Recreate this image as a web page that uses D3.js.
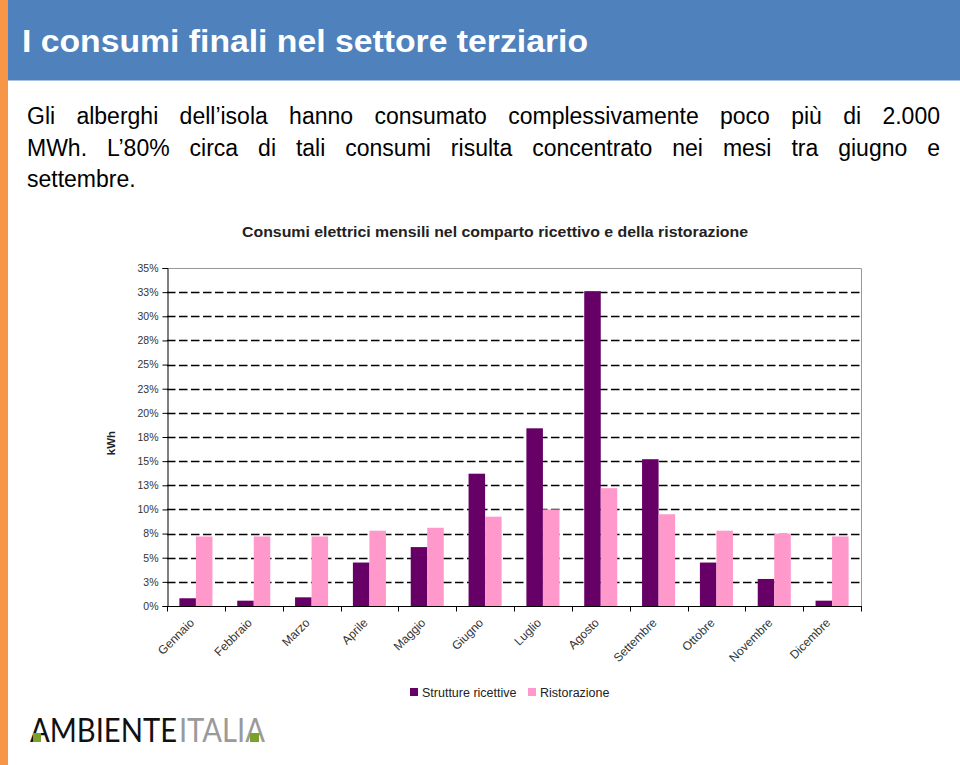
<!DOCTYPE html>
<html>
<head>
<meta charset="utf-8">
<title>I consumi finali nel settore terziario</title>
<script src="https://cdn.jsdelivr.net/npm/d3@7"></script>
<style>
    body { margin: 0; background: #fff; }
    svg { display: block; font-family: "Liberation Sans", Arial, sans-serif; }
</style>
</head>
<body>
<svg id="page" width="960" height="765"></svg>
<script>
    // data (share of yearly kWh, %)
    const MONTHS = ['Gennaio', 'Febbraio', 'Marzo', 'Aprile', 'Maggio', 'Giugno',
                    'Luglio', 'Agosto', 'Settembre', 'Ottobre', 'Novembre', 'Dicembre'];
    const SERIES = ['Strutture ricettive', 'Ristorazione'];
    const RICETTIVE = [0.8, 0.55, 0.9, 4.5, 6.1, 13.7, 18.4, 32.6, 15.2, 4.5, 2.8, 0.55];
    const RISTORAZIONE = [7.2, 7.2, 7.2, 7.8, 8.1, 9.25, 10.0, 12.2, 9.5, 7.8, 7.5, 7.2];
    const Y_TICKS = [0, 2.5, 5, 7.5, 10, 12.5, 15, 17.5, 20, 22.5, 25, 27.5, 30, 32.5, 35];
    const Y_LABELS = ['0%', '3%', '5%', '8%', '10%', '13%', '15%', '18%', '20%', '23%', '25%', '28%', '30%', '33%', '35%'];
    const COLORS = ['#660066', '#ff99cc'];

    const TEXT_LINES = [
        'Gli alberghi dell\u2019isola hanno consumato complessivamente poco più di 2.000',
        'MWh. L\u201980% circa di tali consumi risulta concentrato nei mesi tra giugno e',
        'settembre.'
    ];

    const svg = d3.select('#page');

    // slide header
    svg.append('rect').attr('x', 0).attr('y', 0).attr('width', 960).attr('height', 80).attr('fill', '#4f81bd');
    svg.append('line').attr('x1', 0).attr('x2', 960).attr('y1', 80.5).attr('y2', 80.5)
        .attr('stroke', '#a9c1e0').attr('stroke-width', 1);
    svg.append('rect').attr('x', 0).attr('y', 0).attr('width', 8).attr('height', 765).attr('fill', '#f79646');
    svg.append('text').attr('x', 22).attr('y', 52)
        .attr('fill', '#fff').attr('font-size', 31).attr('font-weight', 'bold')
        .attr('textLength', 566).attr('lengthAdjust', 'spacingAndGlyphs')
        .text('I consumi finali nel settore terziario');

    // justified paragraph
    const para = svg.append('g').attr('font-size', 23).attr('fill', '#000');
    TEXT_LINES.forEach((line, i) => {
        const t = para.append('text').attr('x', 27).attr('y', 124 + i * 31.5).text(line);
        if (i < TEXT_LINES.length - 1) {
            const natural = t.node().getComputedTextLength();
            const spaces = line.split(' ').length - 1;
            t.attr('word-spacing', (913 - natural) / spaces);
        }
    });

    // chart
    const plotL = 167, plotR = 861, plotT = 268, plotB = 606;

    const x0 = d3.scaleBand().domain(MONTHS).range([plotL, plotR]).padding(0);
    const x1 = d3.scaleBand().domain(SERIES).range([0, x0.bandwidth()])
        .paddingInner(0).paddingOuter(0.75);
    const y = d3.scaleLinear().domain([0, 35]).range([plotB, plotT]);

    svg.append('text').attr('x', 242).attr('y', 237)
        .attr('font-size', 15.5).attr('font-weight', 'bold').attr('fill', '#222')
        .attr('textLength', 506).attr('lengthAdjust', 'spacingAndGlyphs')
        .text('Consumi elettrici mensili nel comparto ricettivo e della ristorazione');

    // dashed grid
    svg.append('g').selectAll('line')
        .data(Y_TICKS.filter(d => d > 0 && d < 35))
        .join('line')
        .attr('x1', plotL).attr('x2', plotR)
        .attr('y1', d => Math.round(y(d)) + 0.5).attr('y2', d => Math.round(y(d)) + 0.5)
        .attr('stroke', '#000').attr('stroke-width', 1.6).attr('stroke-dasharray', '8.5,3.5');

    // frame top/right
    svg.append('path')
        .attr('d', `M${plotL},${plotT + 0.5}H${plotR + 0.5}V${plotB}`)
        .attr('fill', 'none').attr('stroke', '#999').attr('stroke-width', 1);

    const rows = MONTHS.map((m, i) => ({ month: m, values: [RICETTIVE[i], RISTORAZIONE[i]] }));

    svg.append('g').selectAll('g')
        .data(rows)
        .join('g')
        .attr('transform', d => `translate(${x0(d.month)},0)`)
        .selectAll('rect')
        .data(d => d.values.map((v, k) => ({ key: SERIES[k], value: v, k })))
        .join('rect')
        .attr('x', d => x1(d.key))
        .attr('width', x1.bandwidth())
        .attr('y', d => y(d.value))
        .attr('height', d => plotB - y(d.value))
        .attr('fill', d => COLORS[d.k]);

    // y axis
    const yAxis = d3.axisLeft(y).tickValues(Y_TICKS)
        .tickFormat((d, i) => Y_LABELS[i]).tickSize(5).tickPadding(4);
    const gy = svg.append('g').attr('transform', `translate(${plotL + 0.5},0)`).call(yAxis);
    gy.selectAll('text').attr('font-size', 10.5).attr('fill', '#333').attr('font-family', '"Liberation Sans", Arial, sans-serif');
    gy.selectAll('line, path').attr('stroke', '#000');

    // x axis with ticks on category boundaries
    const gx = svg.append('g').attr('transform', `translate(0,${plotB + 0.5})`);
    gx.append('line').attr('x1', plotL).attr('x2', plotR + 1).attr('stroke', '#000');
    gx.selectAll('.tk')
        .data(MONTHS.concat(['end']))
        .join('line')
        .attr('class', 'tk')
        .attr('x1', (d, i) => Math.round(plotL + i * x0.step()) + 0.5)
        .attr('x2', (d, i) => Math.round(plotL + i * x0.step()) + 0.5)
        .attr('y1', 0).attr('y2', 5).attr('stroke', '#000');
    gx.selectAll('.lbl')
        .data(MONTHS)
        .join('text')
        .attr('class', 'lbl')
        .attr('transform', d => `translate(${x0(d) + x0.bandwidth() / 2 - 1},${17}) rotate(-45)`)
        .attr('text-anchor', 'end')
        .attr('font-size', 12).attr('fill', '#333')
        .text(d => d);

    // y title
    svg.append('text')
        .attr('transform', 'translate(115,443) rotate(-90)')
        .attr('text-anchor', 'middle').attr('font-size', 11.5).attr('font-weight', 'bold').attr('fill', '#222')
        .text('kWh');

    // legend
    const legend = svg.append('g').attr('font-size', 12.5).attr('fill', '#222');
    const legX = [410, 528];
    SERIES.forEach((s, i) => {
        legend.append('rect').attr('x', legX[i]).attr('y', 688).attr('width', 8).attr('height', 8).attr('fill', COLORS[i]);
        legend.append('text').attr('x', legX[i] + 12).attr('y', 697).text(s);
    });

    // logo: natural text, squeezed horizontally as a group
    const logo = svg.append('g').attr('font-family', 'Lato, "Open Sans", sans-serif').attr('font-size', 32).attr('font-weight', 400);
    const a = logo.append('text').attr('x', 0).attr('y', 0).attr('fill', '#111').text('AMBIENTE');
    const w1 = a.node().getComputedTextLength();
    const b = logo.append('text').attr('x', w1 + 2).attr('y', 0).attr('fill', '#9a9a9a').text('ITALIA');
    const w2 = b.node().getComputedTextLength();
    logo.attr('transform', `translate(30,742) scale(${235 / (w1 + 2 + w2)},1)`);
    svg.append('rect').attr('x', 33).attr('y', 733).attr('width', 8).attr('height', 9).attr('fill', '#7aa22a');
    svg.append('rect').attr('x', 250).attr('y', 733).attr('width', 9).attr('height', 9).attr('fill', '#7aa22a');
</script>
</body>
</html>
